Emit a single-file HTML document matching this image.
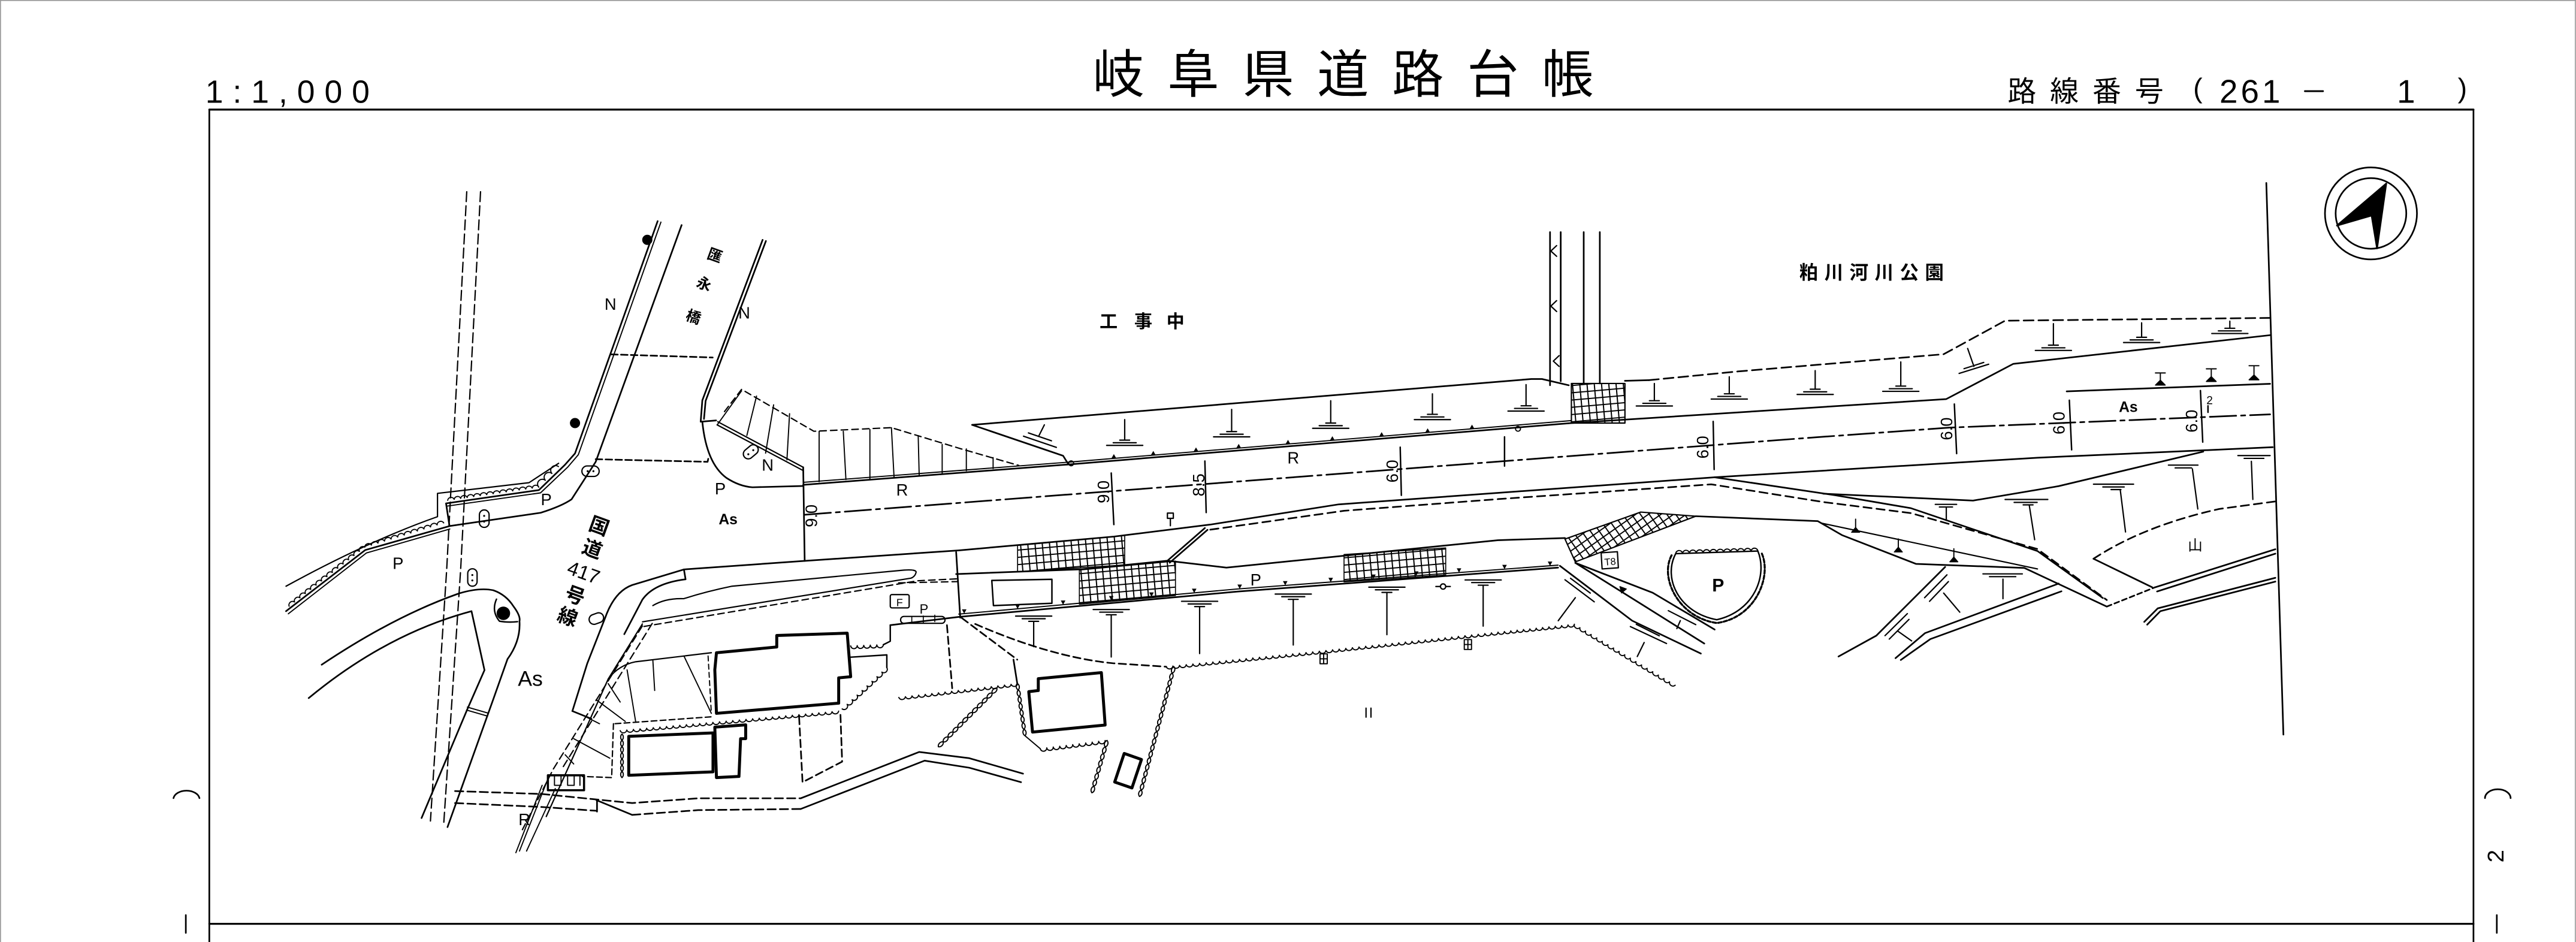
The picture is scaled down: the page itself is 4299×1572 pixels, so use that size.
<!DOCTYPE html>
<html><head><meta charset="utf-8"><style>
html,body{margin:0;padding:0;background:#fff;overflow:hidden;}
svg{display:block;}
text{font-family:"Liberation Sans","Noto Sans CJK JP",sans-serif;fill:#000;stroke:none;}
</style></head><body>
<svg xmlns="http://www.w3.org/2000/svg" width="4299" height="1572" viewBox="0 0 1568 573.37">
<defs>
<pattern id="gr" width="4.4" height="4.4" patternUnits="userSpaceOnUse" patternTransform="rotate(-5)"><path d="M0 0.35H4.4M0.35 0V4.4" stroke="#000" stroke-width="0.75" fill="none"/></pattern>
<pattern id="gr2" width="4.4" height="4.4" patternUnits="userSpaceOnUse" patternTransform="rotate(-35)"><path d="M0 0.35H4.4M0.35 0V4.4" stroke="#000" stroke-width="0.75" fill="none"/></pattern>
</defs>
<rect width="1568" height="573.37" fill="#fff"/>
<path d="M0 0.3H1568M0.3 0V573.4M1567.6 0V573.4" stroke="#999" stroke-width="0.6" fill="none"/>

<!-- header text -->
<text x="125" y="62.5" font-size="19.5" textLength="100" lengthAdjust="spacing">1:1,000</text>
<text x="665" y="56.3" font-size="31.5" textLength="305" lengthAdjust="spacing">岐阜県道路台帳</text>
<text x="1222" y="61.6" font-size="17.5" textLength="95" lengthAdjust="spacing">路線番号</text>
<text x="1335" y="59.4" font-size="17">(</text>
<text x="1351" y="62.6" font-size="20" textLength="37" lengthAdjust="spacing">261</text>
<text x="1459" y="62.6" font-size="20">1</text>
<text x="1496" y="59.4" font-size="17">)</text>

<g fill="none" stroke="#000" stroke-width="1" stroke-linejoin="round" stroke-linecap="round">
<path d="M1403 55.5H1414" stroke-width="1.1"/>
<!-- frame -->
<path d="M127.4 66.7H1505.6M127.4 562.3H1505.6" stroke-width="1.15"/>
<path d="M127.4 66.7V573.4M1505.6 66.7V573.4"/>
<!-- margin marks -->
<path d="M105.6 485.8A8 5.4 0 0 1 121.4 485.8M113.1 557V567.8"/>
<path d="M1512.6 485.8A7.8 5.4 0 0 1 1528.2 485.8M1519.8 557V567.8"/>

<!-- compass -->
<circle cx="1443.2" cy="129.9" r="28"/>
<circle cx="1443.2" cy="129.9" r="21.5"/>
<path d="M1452.5 111.7L1422.5 137.3L1443.6 131.2L1446.9 151.2Z" fill="#000"/>

<!-- right end line -->
<path d="M1379.5 111.4L1389.9 447.1"/>

<!-- old boundary dashed pair -->
<path d="M284.1 116.7L271.9 346.5L262 499.7M292.5 116.7L280.4 346.5L270 502.8" stroke-dasharray="6 2.6" stroke-width="0.8"/>

<!-- N road (bridge road) -->
<path d="M400.3 134.6L350 276L343.8 283L328 298.3L271.5 306.4L273.6 320.2L222.3 334.8L174.1 372"/>
<path d="M402.3 135.2L352 276.8L345.5 284.4L329 300L272.5 308M273.8 322L223 336.6L175.5 373.6" stroke-width="0.7"/>
<path d="M174.1 356.8Q225 329 266.3 314.5V300.3L322 293.8L340 282" stroke-width="0.8"/>
<path d="M273.6 320.2L329.1 312.1Q342 308 347.9 303.9L362.6 281.1L414.9 137"/>
<path d="M464.2 146L427.5 243.7L426.5 256.7L435.9 255.9M466.2 146.7L429.5 244L428.5 255"/>
<path d="M436.9 256.7L488.9 284.4M436.5 258.6L488.5 286.2" stroke-width="0.8"/>
<path d="M427.5 256.7Q430 282 442.2 290.9Q450 296 458 296.6L488.9 295.8"/>
<path d="M372 215.7L433.8 217.6M362.6 279.5L430.7 281.1L431.5 277.5" stroke-dasharray="4 2"/>
<!-- wall scallops -->
<path stroke-width="0.7" d="M176 369a2.2 2.2 0 0 1 3.29-2.57a2.2 2.2 0 0 1 3.29-2.57a2.2 2.2 0 0 1 3.29-2.57a2.2 2.2 0 0 1 3.29-2.57a2.2 2.2 0 0 1 3.29-2.57a2.2 2.2 0 0 1 3.29-2.57a2.2 2.2 0 0 1 3.29-2.57a2.2 2.2 0 0 1 3.29-2.57a2.2 2.2 0 0 1 3.29-2.57a2.2 2.2 0 0 1 3.29-2.57a2.2 2.2 0 0 1 3.29-2.57a2.2 2.2 0 0 1 3.29-2.57a2.2 2.2 0 0 1 3.29-2.57a2.2 2.2 0 0 1 3.29-2.57a2.2 2.2 0 0 1 4-1.23a2.2 2.2 0 0 1 4-1.23a2.2 2.2 0 0 1 4-1.23a2.2 2.2 0 0 1 4-1.23a2.2 2.2 0 0 1 4-1.23a2.2 2.2 0 0 1 4-1.23a2.2 2.2 0 0 1 4-1.23a2.2 2.2 0 0 1 4-1.23a2.2 2.2 0 0 1 4-1.23a2.2 2.2 0 0 1 4-1.23a2.2 2.2 0 0 1 4-1.23a2.2 2.2 0 0 1 4-1.23"/>
<path stroke-width="0.7" d="M272.5 304.5a2.1 2.1 0 0 1 3.96-.57a2.1 2.1 0 0 1 3.96-.57a2.1 2.1 0 0 1 3.96-.57a2.1 2.1 0 0 1 3.96-.57a2.1 2.1 0 0 1 3.96-.57a2.1 2.1 0 0 1 3.96-.57a2.1 2.1 0 0 1 3.96-.57a2.1 2.1 0 0 1 3.96-.57a2.1 2.1 0 0 1 3.96-.57a2.1 2.1 0 0 1 3.96-.57a2.1 2.1 0 0 1 3.96-.57a2.1 2.1 0 0 1 3.96-.57a2.1 2.1 0 0 1 3.96-.57a2.1 2.1 0 0 1 3.96-.57a2.9 2.9 0 0 1 4-4.17a2.9 2.9 0 0 1 4-4.17a2.9 2.9 0 0 1 4-4.17"/>
<!-- manholes -->
<circle cx="394" cy="146" r="2.6" fill="#000"/>
<circle cx="350" cy="257.5" r="2.6" fill="#000"/>
<rect x="354.2" y="283.6" width="10.5" height="6.4" rx="3.2" stroke-width="0.8"/>
<rect x="291.8" y="310.4" width="5.9" height="10.6" rx="2.9" stroke-width="0.8"/>
<rect x="284.7" y="346.2" width="5.7" height="10.6" rx="2.8" stroke-width="0.8"/>
<rect x="358.5" y="373.5" width="9" height="6" rx="3" stroke-width="0.8" transform="rotate(-20 363 376.5)"/>
<rect x="452" y="272" width="10" height="6" rx="3" stroke-width="0.8" transform="rotate(-40 457 275)"/>
<g fill="#000" stroke="none"><circle cx="357.7" cy="286.8" r="0.6"/><circle cx="361.2" cy="286.8" r="0.6"/><circle cx="294.7" cy="314" r="0.6"/><circle cx="294.7" cy="317.5" r="0.6"/><circle cx="287.5" cy="350" r="0.6"/><circle cx="287.5" cy="353.3" r="0.6"/><circle cx="455.5" cy="276.5" r="0.6"/><circle cx="458.5" cy="274" r="0.6"/></g>

<!-- island / lower-left curves -->
<path d="M195.8 404.6Q240 375 279.7 361.1Q292 357.5 300.3 359.3Q308 362 312.5 369Q317 375 316.2 378.1Q317 390 308.9 401.2L300.3 425.5L272.4 503.4"/>
<path d="M187.9 424.9Q235 386 287 372L294.9 407.9L284.5 431.6L256.6 497.9"/>
<path d="M284.5 430.4L297.3 434.1M284 432.2L296.8 435.9" stroke-width="0.7"/>
<path d="M302.2 364.7Q299 372 304 378.1Q309 379 315 378.4" stroke-width="0.9"/>
<circle cx="306.4" cy="373.3" r="3.6" fill="#000"/>

<!-- 417 east side -->
<path d="M348.4 432.8L357.5 403.7L368.3 376.2Q374 360 384.8 356.1L416.3 346.6L489.8 341.4"/>
<path d="M348.4 432.8L360 437.5"/>
<path d="M416.3 346.6L417.3 352.6Q398 355 391 365L380 386"/>
<path d="M391 379.8L370.2 413.3L332.5 497" stroke-width="0.8"/>
<path d="M391 381L336.8 468.1L318 505M397 379.5L342 468" stroke-dasharray="4.5 2.5" stroke-width="0.8"/>
<path d="M334.4 471.8L316.2 518M338 480L320.5 518M330 478L314 519" stroke-width="0.7"/>
<path d="M370.2 413.3Q376.5 404.9 386.9 402.8L433 397.3" stroke-width="0.8"/>
<path stroke-width="0.7" d="M370.2 416.1L377.5 427.3M362.9 425.9L380.6 439.1M349.2 449.6L371.2 461.5M344 459.4L349.2 465M356.6 436.3L364.9 440.5M381.7 407.7L386.9 439.1M397.4 402.1L398.5 420.3M416.3 399.3L433 434.2"/>
<path d="M431 399.3L433 434.2" stroke-dasharray="3 2" stroke-width="0.7"/>
<!-- island sliver -->
<path d="M397.4 368.6Q405 364 416.2 364.4Q430 360 445.6 356.8L550.3 347Q558 346.5 557.6 348.4Q557 351 554.5 351.9L391.1 378.5" stroke-width="0.8"/>
<path d="M392 381.3L558.6 353.5L583 352.3M547 354.8L583 354" stroke-dasharray="4 2.5" stroke-width="0.8"/>

<!-- small hatched rect -->
<path d="M333.5 471.9H355.5V481H333.5Z" stroke-width="1.3"/>
<path d="M337.5 472V478M341.5 472V478M345.5 472V478M349.5 472V478M353 472V478M337.5 478H341.5M345.5 478H349.5" stroke-width="0.7"/>

<!-- lower double line -->
<path d="M277 481.5L330 483.3L384.8 488.8L425 485.9L487.4 485.9M277 488.8L330 491.2L363 493.5M384.8 496L425 493.1L487.4 492.4" stroke-dasharray="5 2.5"/>
<path d="M363 487L384.8 496M363.4 487V494"/>
<path d="M487.4 485.9L559.5 457.7L590 461.5L622.7 470.9M487.4 492.4L562.8 463L590 467.3L621.5 476.1"/>

<!-- buildings -->
<g stroke-width="1.8">
<path d="M436.1 397.3L472.8 393.8L472.8 386.8L515.7 385.4L517.8 411.9L510.5 412.6L510.5 428L436.1 434.2L435.1 407.7Z"/>
<path d="M382.7 448.2L434 446.1L434 469.8L382.7 471.9Z"/>
<path d="M435.1 442.6L453.9 441.2L453.9 449.6L450.8 449.6L449.8 472.6L436.1 473.3Z"/>
<path d="M626.2 421L632 420.3L632 413.1L670.4 409.4L672.7 441.3L628.5 445.6Z"/>
<path d="M684.3 458.6L694.8 462.3L689 479.6L678.5 476Z"/>
</g>
<path d="M374.4 440.5L433 436.3M373.4 440.5L372.3 473.3L354.5 472.6" stroke-dasharray="3.5 2" stroke-width="0.8"/>
<path d="M486.4 436.3L488.5 476.1L512.6 463.6L511.5 432.8" stroke-dasharray="4.5 2.5"/>
<path d="M517.8 400L539.8 398.6L539.8 406.3M537.7 392.4L541.9 390.3L541.9 380.5" stroke-width="0.9"/>
<path d="M576.4 380.5L579.6 418.9" stroke-dasharray="4.5 2.5"/>
<path d="M585.5 376.2L619.2 401.5" stroke-dasharray="4.5 2.5"/>
<path d="M616.9 401.5L619.2 416"/>
<path d="M593.6 379.8Q640 400 677.4 403.7L709.9 405.8" stroke-dasharray="4.5 2.5"/>

<!-- scallops (south area) -->
<g stroke-width="0.7">
<path d="M709.9 405.8a2.1 2.1 0 0 0 4.05-.41a2.1 2.1 0 0 0 4.05-.41a2.1 2.1 0 0 0 4.05-.41a2.1 2.1 0 0 0 4.05-.41a2.1 2.1 0 0 0 4.05-.41a2.1 2.1 0 0 0 4.05-.41a2.1 2.1 0 0 0 4.05-.41a2.1 2.1 0 0 0 4.05-.41a2.1 2.1 0 0 0 4.05-.41a2.1 2.1 0 0 0 4.05-.41a2.1 2.1 0 0 0 4.05-.41a2.1 2.1 0 0 0 4.05-.41a2.1 2.1 0 0 0 4.05-.41a2.1 2.1 0 0 0 4.05-.41a2.1 2.1 0 0 0 4.05-.41a2.1 2.1 0 0 0 4.05-.41a2.1 2.1 0 0 0 4.05-.41a2.1 2.1 0 0 0 4.05-.41a2.1 2.1 0 0 0 4.05-.41a2.1 2.1 0 0 0 4.05-.41a2.1 2.1 0 0 0 4.05-.41a2.1 2.1 0 0 0 4.05-.41a2.1 2.1 0 0 0 4.05-.41a2.1 2.1 0 0 0 4.03-.43a2.1 2.1 0 0 0 4.03-.43a2.1 2.1 0 0 0 4.03-.43a2.1 2.1 0 0 0 4.03-.43a2.1 2.1 0 0 0 4.03-.43a2.1 2.1 0 0 0 4.03-.43a2.1 2.1 0 0 0 4.03-.43a2.1 2.1 0 0 0 4.03-.43a2.1 2.1 0 0 0 4.03-.43a2.1 2.1 0 0 0 4.03-.43a2.1 2.1 0 0 0 4.03-.43a2.1 2.1 0 0 0 4.03-.43a2.1 2.1 0 0 0 4.03-.43a2.1 2.1 0 0 0 4.03-.43a2.1 2.1 0 0 0 4.03-.43a2.1 2.1 0 0 0 4.03-.43a2.1 2.1 0 0 0 4.03-.43a2.1 2.1 0 0 0 4.03-.43a2.1 2.1 0 0 0 4.03-.43a2.1 2.1 0 0 0 4.03-.43a2.1 2.1 0 0 0 4.03-.43a2.1 2.1 0 0 0 4.03-.43a2.1 2.1 0 0 0 4.03-.43a2.1 2.1 0 0 0 4.03-.43a2.1 2.1 0 0 0 4.03-.43a2.1 2.1 0 0 0 4.03-.43a2.1 2.1 0 0 0 4.03-.43a2 2 0 0 0 3.87-.4a2 2 0 0 0 3.87-.4a2 2 0 0 0 3.87-.4a2 2 0 0 0 3.87-.4a2 2 0 0 0 3.87-.4a2 2 0 0 0 3.87-.4a2 2 0 0 0 3.87-.4a2 2 0 0 0 3.87-.4a2 2 0 0 0 3.87-.4a2 2 0 0 0 3.87-.4a2 2 0 0 0 3.87-.4a2 2 0 0 0 3.87-.4"/>
<path d="M958.3 380a2.1 2.1 0 0 0 3.41 2.06a2.1 2.1 0 0 0 3.41 2.06a2.1 2.1 0 0 0 3.41 2.06a2.1 2.1 0 0 0 3.41 2.06a2.1 2.1 0 0 0 3.41 2.06a2.1 2.1 0 0 0 3.41 2.06a2.1 2.1 0 0 0 3.41 2.06a2.1 2.1 0 0 0 3.41 2.06a2.1 2.1 0 0 0 3.41 2.06a2.1 2.1 0 0 0 3.41 2.06a2.1 2.1 0 0 0 3.41 2.06a2.1 2.1 0 0 0 3.41 2.06a2.1 2.1 0 0 0 3.41 2.06a2.1 2.1 0 0 0 3.41 2.06a2.1 2.1 0 0 0 3.41 2.06a2.1 2.1 0 0 0 3.41 2.06a2.1 2.1 0 0 0 3.41 2.06a2.1 2.1 0 0 0 3.41 2.06"/>
<path d="M377.5 444.7a2.1 2.1 0 0 0 4.03-.36a2.1 2.1 0 0 0 4.03-.36a2.1 2.1 0 0 0 4.03-.36a2.1 2.1 0 0 0 4.03-.36a2.1 2.1 0 0 0 4.03-.36a2.1 2.1 0 0 0 4.03-.36a2.1 2.1 0 0 0 4.03-.36a2.1 2.1 0 0 0 4.03-.36a2.1 2.1 0 0 0 4.03-.36a2.1 2.1 0 0 0 4.03-.36a2.1 2.1 0 0 0 4.03-.36a2.1 2.1 0 0 0 4.03-.36a2.1 2.1 0 0 0 4.03-.36a2.1 2.1 0 0 0 4.03-.36a2.1 2.1 0 0 0 4.03-.36a2.1 2.1 0 0 0 4.03-.36a2.1 2.1 0 0 0 4.03-.36a2.1 2.1 0 0 0 4.03-.36a2.1 2.1 0 0 0 4.03-.36a2.1 2.1 0 0 0 4.03-.36a2.1 2.1 0 0 0 4.03-.36a2.1 2.1 0 0 0 4.03-.36a2.1 2.1 0 0 0 4.03-.36a2.1 2.1 0 0 0 4.03-.36a2.1 2.1 0 0 0 4.03-.36a2.1 2.1 0 0 0 4.03-.36a2.1 2.1 0 0 0 4.03-.36a2.1 2.1 0 0 0 4.03-.36a2.1 2.1 0 0 0 4.03-.36a2.1 2.1 0 0 0 4.03-.36a2.1 2.1 0 0 0 4.03-.36a2.1 2.1 0 0 0 4.03-.36a2.1 2.1 0 0 0 4.03-.36"/>
<path d="M517.8 393.1a2 2 0 0 0 3.98-.14a2 2 0 0 0 3.98-.14a2 2 0 0 0 3.98-.14a2 2 0 0 0 3.98-.14a2 2 0 0 0 3.98-.14"/>
<path d="M539.8 406.3a2.1 2.1 0 0 1-3.02 2.8a2.1 2.1 0 0 1-3.02 2.8a2.1 2.1 0 0 1-3.02 2.8a2.1 2.1 0 0 1-3.02 2.8a2.1 2.1 0 0 1-3.02 2.8a2.1 2.1 0 0 1-3.02 2.8a2.1 2.1 0 0 1-3.02 2.8a2.1 2.1 0 0 1-3.02 2.8a2.1 2.1 0 0 1-3.02 2.8"/>
<path d="M547.1 424.5a2.1 2.1 0 0 0 4.02-.47a2.1 2.1 0 0 0 4.02-.47a2.1 2.1 0 0 0 4.02-.47a2.1 2.1 0 0 0 4.02-.47a2.1 2.1 0 0 0 4.02-.47a2.1 2.1 0 0 0 4.02-.47a2.1 2.1 0 0 0 4.02-.47a2.1 2.1 0 0 0 4.02-.47a2.1 2.1 0 0 0 4.02-.47a2.1 2.1 0 0 0 4.02-.47a2.1 2.1 0 0 0 4.02-.47a2.1 2.1 0 0 0 4.02-.47a2.1 2.1 0 0 0 4.02-.47a2.1 2.1 0 0 0 4.02-.47a2.1 2.1 0 0 0 4.02-.47a2.1 2.1 0 0 0 4.02-.47a2.1 2.1 0 0 0 4.02-.47a2.1 2.1 0 0 0 4.02-.47"/>
<path d="M633.2 455.7a2 2 0 0 0 3.95-.5a2 2 0 0 0 3.95-.5a2 2 0 0 0 3.95-.5a2 2 0 0 0 3.95-.5a2 2 0 0 0 3.95-.5a2 2 0 0 0 3.95-.5a2 2 0 0 0 3.95-.5a2 2 0 0 0 3.95-.5a2 2 0 0 0 3.95-.5a2 2 0 0 0 3.95-.5"/>
<path d="M606.8 418.9a2.6 2.6 0 0 1-2.97 2.97a2.6 2.6 0 0 1-2.97 2.97a2.6 2.6 0 0 1-2.97 2.97a2.6 2.6 0 0 1-2.97 2.97a2.6 2.6 0 0 1-2.97 2.97a2.6 2.6 0 0 1-2.97 2.97a2.6 2.6 0 0 1-2.97 2.97a2.6 2.6 0 0 1-2.97 2.97a2.6 2.6 0 0 1-2.97 2.97a2.6 2.6 0 0 1-2.97 2.97a2.6 2.6 0 0 1-2.97 2.97a2.6 2.6 0 0 1-2.97 2.97M606.8 418.9a2.6 2.6 0 0 0-2.97 2.97a2.6 2.6 0 0 0-2.97 2.97a2.6 2.6 0 0 0-2.97 2.97a2.6 2.6 0 0 0-2.97 2.97a2.6 2.6 0 0 0-2.97 2.97a2.6 2.6 0 0 0-2.97 2.97a2.6 2.6 0 0 0-2.97 2.97a2.6 2.6 0 0 0-2.97 2.97a2.6 2.6 0 0 0-2.97 2.97a2.6 2.6 0 0 0-2.97 2.97a2.6 2.6 0 0 0-2.97 2.97a2.6 2.6 0 0 0-2.97 2.97"/>
<path d="M619.2 416a2.6 2.6 0 0 1 .59 3.98a2.6 2.6 0 0 1 .59 3.98a2.6 2.6 0 0 1 .59 3.98a2.6 2.6 0 0 1 .59 3.98a2.6 2.6 0 0 1 .59 3.98a2.6 2.6 0 0 1 .59 3.98a2.6 2.6 0 0 1 .59 3.98a2.6 2.6 0 0 1 .59 3.98M619.2 416a2.6 2.6 0 0 0 .59 3.98a2.6 2.6 0 0 0 .59 3.98a2.6 2.6 0 0 0 .59 3.98a2.6 2.6 0 0 0 .59 3.98a2.6 2.6 0 0 0 .59 3.98a2.6 2.6 0 0 0 .59 3.98a2.6 2.6 0 0 0 .59 3.98a2.6 2.6 0 0 0 .59 3.98L633.2 455.7"/>
<path d="M673.9 450.7a2.6 2.6 0 0 1-1.16 3.98a2.6 2.6 0 0 1-1.16 3.98a2.6 2.6 0 0 1-1.16 3.98a2.6 2.6 0 0 1-1.16 3.98a2.6 2.6 0 0 1-1.16 3.98a2.6 2.6 0 0 1-1.16 3.98a2.6 2.6 0 0 1-1.16 3.98a2.6 2.6 0 0 1-1.16 3.98M673.9 450.7a2.6 2.6 0 0 0-1.16 3.98a2.6 2.6 0 0 0-1.16 3.98a2.6 2.6 0 0 0-1.16 3.98a2.6 2.6 0 0 0-1.16 3.98a2.6 2.6 0 0 0-1.16 3.98a2.6 2.6 0 0 0-1.16 3.98a2.6 2.6 0 0 0-1.16 3.98a2.6 2.6 0 0 0-1.16 3.98"/>
<path d="M714.6 405.8a2.6 2.6 0 0 1-1.05 3.95a2.6 2.6 0 0 1-1.05 3.95a2.6 2.6 0 0 1-1.05 3.95a2.6 2.6 0 0 1-1.05 3.95a2.6 2.6 0 0 1-1.05 3.95a2.6 2.6 0 0 1-1.05 3.95a2.6 2.6 0 0 1-1.05 3.95a2.6 2.6 0 0 1-1.05 3.95a2.6 2.6 0 0 1-1.05 3.95a2.6 2.6 0 0 1-1.05 3.95a2.6 2.6 0 0 1-1.05 3.95a2.6 2.6 0 0 1-1.05 3.95a2.6 2.6 0 0 1-1.05 3.95a2.6 2.6 0 0 1-1.05 3.95a2.6 2.6 0 0 1-1.05 3.95a2.6 2.6 0 0 1-1.05 3.95a2.6 2.6 0 0 1-1.05 3.95a2.6 2.6 0 0 1-1.05 3.95a2.6 2.6 0 0 1-1.05 3.95a2.6 2.6 0 0 1-1.05 3.95M714.6 405.8a2.6 2.6 0 0 0-1.05 3.95a2.6 2.6 0 0 0-1.05 3.95a2.6 2.6 0 0 0-1.05 3.95a2.6 2.6 0 0 0-1.05 3.95a2.6 2.6 0 0 0-1.05 3.95a2.6 2.6 0 0 0-1.05 3.95a2.6 2.6 0 0 0-1.05 3.95a2.6 2.6 0 0 0-1.05 3.95a2.6 2.6 0 0 0-1.05 3.95a2.6 2.6 0 0 0-1.05 3.95a2.6 2.6 0 0 0-1.05 3.95a2.6 2.6 0 0 0-1.05 3.95a2.6 2.6 0 0 0-1.05 3.95a2.6 2.6 0 0 0-1.05 3.95a2.6 2.6 0 0 0-1.05 3.95a2.6 2.6 0 0 0-1.05 3.95a2.6 2.6 0 0 0-1.05 3.95a2.6 2.6 0 0 0-1.05 3.95a2.6 2.6 0 0 0-1.05 3.95a2.6 2.6 0 0 0-1.05 3.95"/>
<path d="M378.6 446.8a2.6 2.6 0 0 1 0 3.79a2.6 2.6 0 0 1 0 3.79a2.6 2.6 0 0 1 0 3.79a2.6 2.6 0 0 1 0 3.79a2.6 2.6 0 0 1 0 3.79a2.6 2.6 0 0 1 0 3.79a2.6 2.6 0 0 1 0 3.79M378.6 446.8a2.6 2.6 0 0 0 0 3.79a2.6 2.6 0 0 0 0 3.79a2.6 2.6 0 0 0 0 3.79a2.6 2.6 0 0 0 0 3.79a2.6 2.6 0 0 0 0 3.79a2.6 2.6 0 0 0 0 3.79a2.6 2.6 0 0 0 0 3.79"/>
</g>

<!-- hatched parking area north-west of main road -->
<path d="M441 250.5L451.4 237L495.4 262.5L542.6 260.3L585 273.2L620.1 283.3" stroke-dasharray="4 2.5" stroke-width="0.8"/>
<path stroke-width="0.7" d="M451.4 237.9L436.7 258.4M460.5 241.1L454.6 265.1M470.9 246.4L466 275.8M480.6 251.8L479 279.9M498.6 262.5L498.6 293.2M513.3 262.5L514.9 291.9M529.5 261.4L529.5 291.4M542.6 260.3L544.2 290.6M558.9 265.1L559.5 289.2M573.5 270.5L573.5 287.9M588.2 273.2L588.2 286.5M604.5 278.5L604.5 285.2"/>

<!-- main road -->
<path d="M488.9 295.1L650.4 282.7L956.5 257.5L1094.3 248.7L1184.7 242.9L1225.4 221.5L1381.8 204"/>
<path d="M488.9 293.6L650.4 281.3L956.5 256" stroke-width="0.7"/>
<path d="M488.9 284.4L489.8 341.4"/>
<path d="M489.8 313.3L1094 267L1186.4 260.3L1381.8 252.2" stroke-dasharray="16 3 2.5 3"/>
<path d="M489.8 341.4L583.6 335L678 326.6L736.7 319.3L814.8 307L911.8 300L1043.7 290.5L1240.2 278.6L1383.4 272.2"/>
<path d="M736.7 322.4L818.1 310.9L911.8 303.8L1041.6 294.8L1110.7 305.7L1163.1 312.3L1240.2 334.2L1282.4 365.2" stroke-dasharray="5 3"/>
<!-- upper strip -->
<path d="M591.7 258.6L932.1 230.7L938.6 230.7L954.9 234.5M591.7 258.6L647.1 277.4L650.4 282.7"/>
<!-- bridge -->
<path d="M943.5 141.3V234.5M950 141.3V232M964 141.3V233.4M973.8 141.3V233.4"/>
<path d="M947.5 149.5L944 152.8L947.5 156M947.5 183L944 186.3L947.5 189.6M949 216.5L945.5 219.8L949 223" stroke-width="0.8"/>
<rect x="956.5" y="233.4" width="32.6" height="24.1" fill="url(#gr)" stroke-width="0.8"/>
<path d="M989.1 231.8L1003.7 231.4"/>
<path d="M1003.7 231.4L1057.7 226.1L1183.1 215.6L1220.5 195.2L1381.8 193.5" stroke-dasharray="6 3"/>
<!-- wedge right -->
<path d="M1258 238.2L1381.8 233.6"/>
<path d="M1312 234.4h6l-3-3zM1343 232.2h6l-3-3zM1369 231.2h6l-3-3z" fill="#000" stroke-width="0.6"/>
<path d="M1315 231.4V227M1346 229.2V224.5M1372 228.2V222.6M1312 227h6M1343 224.5h6M1369 222.6h6" stroke-width="0.7"/>

<!-- north curb triangles -->
<path fill="#000" stroke="none" d="M676.5 279h3l-1.5-2.6zM700.5 277.05h3l-1.5-2.6zM726.5 274.91h3l-1.5-2.6zM752.5 272.77h3l-1.5-2.6zM782.5 270.3h3l-1.5-2.6zM809.5 268.08h3l-1.5-2.6zM839.5 265.61h3l-1.5-2.6zM867.5 263.3h3l-1.5-2.6zM894.5 261.08h3l-1.5-2.6z"/>
<circle cx="652" cy="282" r="1.5" stroke-width="0.7"/>
<circle cx="924" cy="261" r="1.5" stroke-width="0.7"/>

<!-- north slope T symbols -->
<path stroke-width="0.8" d="M673.6 271.1h22M677.6 269.5h14M681.6 267.9h6M684.6 267.9V255.4
M738.7 265.9h22M742.7 264.3h14M746.7 262.7h6M749.7 262.7V249.2
M799 260.7h22M803 259.1h14M807 257.5h6M810 257.5V243.9
M860.9 255.4h22M864.9 253.8h14M868.9 252.2h6M871.9 252.2V239.7
M917.9 250.2h22M921.9 248.6h14M925.9 247h6M928.9 247V234.1
M996 247.1h22M1000 245.5h14M1004 243.9h6M1007 243.9V233.4
M1041.6 242.9h22M1045.6 241.3h14M1049.6 239.7h6M1052.6 239.7V229.3
M1093.9 240.1h22M1097.9 238.5h14M1101.9 236.9h6M1104.9 236.9V225.6
M1146 238.2h22M1150 236.6h14M1154 235h6M1157 235V220.3
M1238.9 213.3h22M1242.9 211.7h14M1246.9 210.1h6M1249.9 210.1V197
M1292.6 208.5h22M1296.6 206.9h14M1300.6 205.3h6M1303.6 205.3V196.5
M1346.3 203h22M1350.3 201.4h14M1354.3 199.8h6M1357.3 199.8V195.5
M1197.7 212.1L1201.5 223M1192.5 227.3L1210.5 221.7M1195.5 224.4L1207.5 220.6
M635.7 258.6L632.5 265M623 265.5L643 272.3M626 263.5L640 268.3"/>

<!-- width markers -->
<path stroke-width="0.9" d="M676.4 287.9L678 319.3M733.4 280.6L734.2 312M852.3 272.2L853 301.5M915.8 265.9V283.7M1042.8 256.5L1043.4 285.8M1189.6 245.9L1191 276.1M1259.6 243.6L1261 273.8M1339.4 237.7L1340.8 269.1M1344 247V251"/>

<!-- south side: line c, grids, curb -->
<path d="M582 349.4L658.8 346.5L710.6 341.3L733.4 321.4M712 342.5L735 322.5M710.6 341.3L746.5 345.5L911.8 328.8L952.6 327.5"/>
<path d="M582 336L584.5 376"/>
<path d="M619.4 332L684.6 326L684.6 343.9L619.4 348Z" fill="url(#gr)" stroke-width="0.6"/>
<path d="M657 347L715.5 341.5L715.5 362.5L657 367.8Z" fill="url(#gr)" stroke-width="0.6"/>
<path d="M818.1 337.5L880 333.5L880 350L818.1 354.2Z" fill="url(#gr)" stroke-width="0.6"/>
<path d="M952.6 328.1L998.7 311.7L1032.2 314.2L958.9 342Z" fill="url(#gr2)" stroke-width="0.8"/>
<path d="M603.7 353.3L640.3 352.6L640.3 367.2L604.7 368.6Z" stroke-width="0.9"/>
<path d="M541.9 380.5L583.6 375.5L753 360.1L948.4 345.5"/>
<path d="M583.6 373.8L753 358.5L948.4 344" stroke-width="0.7"/>
<path fill="#000" stroke="none" d="M585.5 370.9h2.8l-1.4 2.6zM618 368h2.8l-1.4 2.6zM645.7 365.5h2.8l-1.4 2.6zM675 362.8h2.8l-1.4 2.6zM699.5 360.6h2.8l-1.4 2.6zM725.5 358.3h2.8l-1.4 2.6zM753.2 355.8h2.8l-1.4 2.6zM780.9 353.7h2.8l-1.4 2.6zM808.6 351.7h2.8l-1.4 2.6zM834.6 349.7h2.8l-1.4 2.6zM860.7 347.8h2.8l-1.4 2.6zM886.7 345.9h2.8l-1.4 2.6zM914.4 343.8h2.8l-1.4 2.6zM942.1 341.8h2.8l-1.4 2.6z"/>
<rect x="548.2" y="375.2" width="27" height="4.2" rx="2" stroke-width="0.8"/>
<path d="M555 375.3V379.3M562 374.9V378.9M569 374.4V378.4" stroke-width="0.6"/>
<rect x="541.9" y="361.9" width="11.5" height="8.1" rx="1" stroke-width="0.8"/>
<!-- south slope Ts -->
<path stroke-width="0.8" d="M618.2 375h22M622.2 376.6h14M626.2 378.2h6M629.2 378.2V393.6
M665.4 371h22M669.4 372.6h14M673.4 374.2h6M676.4 374.2V399.9
M719.2 366h22M723.2 367.6h14M727.2 369.2h6M730.2 369.2V397.8
M776.2 361.6h22M780.2 363.2h14M784.2 364.8h6M787.2 364.8V392.6
M833.2 357.4h22M837.2 359h14M841.2 360.6h6M844.2 360.6V386.3
M891.8 353h22M895.8 354.6h14M899.8 356.2h6M902.8 356.2V381.1"/>
<!-- signs -->
<path d="M710.6 312.3h3.6v3.2h-3.6zM712.4 315.5V320" stroke-width="0.8"/>
<circle cx="878.4" cy="357" r="1.6" stroke-width="0.8"/>
<path d="M874 357h2.8M880 357h2.8" stroke-width="0.8"/>
<path d="M803.5 398h4.4v6h-4.4zM803.5 401h4.4M805.7 398v6M891.3 389.3h4.4v6h-4.4zM891.3 392.3h4.4M893.5 389.3v6" stroke-width="0.7"/>
<path d="M831.5 431V436.5M834.5 431V436.5" stroke-width="0.8"/>

<!-- south-east area -->
<path d="M949.5 344.4L993.5 377.8L1035.3 397.8"/>
<path d="M958.9 342.6L999.7 368.1L1037.4 391.7"/>
<path d="M958.9 342.6L1006 360.8L1043.7 383.2"/>
<path d="M1032.2 314.2L1106.5 317.2L1121.2 325.7L1166.2 343.2L1232.2 345.7L1282.4 369.2"/>
<path d="M1108.6 318.4L1240.2 346.3" stroke-width="0.8"/>
<path d="M1043.7 290.5L1117 301.4L1163.1 309.3L1240.2 335.4L1280 364"/>
<path d="M1109.8 300.5L1201 304.7L1253.1 295.9L1341.1 274.9"/>
<path d="M1184 345.1L1142.1 386.9L1119.1 399.6"/>
<path d="M1253.1 355.2L1171.7 385.4L1153.8 400.6M1254.8 359.9L1175 389L1157 401.7"/>
<path d="M1274.3 340.1Q1305 320 1350.8 309.8L1385 305.2" stroke-dasharray="5 3"/>
<path d="M1274.3 340.1L1310.1 357.5"/>
<path d="M1311.7 357.5L1385 334.3M1313 360L1385 337"/>
<path d="M1305.2 378.5L1313.4 370.3L1385 351.7M1307 380.2L1315 372L1385 354"/>
<path d="M1282.4 369.2L1311.7 357.5" stroke-dasharray="3 2"/>
<!-- SE T symbols -->
<path stroke-width="0.8" d="M1178 307h13M1180.5 308.6h8M1184.7 308.6V316.8
M1220.5 304h26M1226 305.8h14M1231.5 307.3h6M1235.2 307.5L1238.5 328.5
M1274.3 294.7h24.4M1280 296.4h13M1285 298h6M1290.6 298.2L1293.8 323.8
M1319.9 283.1h18M1324 284.8h10M1334.5 285.4L1337.8 309.8
M1362.2 277.3h19.6M1366 279h12M1370.4 280.8L1371.3 304
M1207 349.3h24M1211 351h16M1219.2 352.5V364.4
M1183.1 361L1192.9 372.6M1171.5 363.8L1185.1 349.9M1174.5 366L1186 354
M1155.4 384.3L1163.6 390.1M1147.4 386.9L1161 373.5M1150 389L1162 377
M948.5 377.8L958.9 363.8M952.6 352.9L970.4 366.3M956 352L968 361
M996.6 399.6L1000.8 391.1M992.4 381.4L1014.4 391.7M996 380L1010 387
M1020.7 382.6L1022.8 377.8M1015.5 371.7L1032.2 380.2"/>
<path d="M1127 324h5l-2.5-3zM1153 336h5l-2.5-3zM1186.8 342h5l-2.5-3z" fill="#000" stroke-width="0.5"/>
<path d="M1129.5 321V316M1155.5 333V328M1189.3 339V334" stroke-width="0.7"/>
<path d="M986 357l4 1.5l-3 2.5z" fill="#000" stroke-width="0.5"/>
<!-- P circle -->
<path d="M1020 337L1070 335.4C1076 350 1068 372 1045 377.2C1022 373 1012 352 1020 337Z" stroke-width="0.9"/>
<path d="M1017.5 338C1010 352 1022 376 1045 379.2C1069 376 1079 350 1072 336" stroke-dasharray="2.2 1.2" stroke-width="1.2"/>
<path stroke-width="0.7" d="M1020 337a2.1 2.1 0 0 1 4.17-.13a2.1 2.1 0 0 1 4.17-.13a2.1 2.1 0 0 1 4.17-.13a2.1 2.1 0 0 1 4.17-.13a2.1 2.1 0 0 1 4.17-.13a2.1 2.1 0 0 1 4.17-.13a2.1 2.1 0 0 1 4.17-.13a2.1 2.1 0 0 1 4.17-.13a2.1 2.1 0 0 1 4.17-.13a2.1 2.1 0 0 1 4.17-.13a2.1 2.1 0 0 1 4.17-.13a2.1 2.1 0 0 1 4.17-.13"/>
<path d="M974.6 336.5L984.5 335.8L985.1 345.6L975.2 346.3Z" stroke-width="0.8"/>
</g>

<!-- labels -->
<g font-size="10" text-anchor="middle">
<text x="371.6" y="188.5">N</text>
<text x="453" y="193.8">N</text>
<text x="467.3" y="286.5">N</text>
<text x="438.4" y="301">P</text>
<text x="332.5" y="307.5">P</text>
<text x="242.3" y="346.3">P</text>
<text x="549.1" y="301.7">R</text>
<text x="787.2" y="282.1">R</text>
<text x="764.4" y="356.4">P</text>
<text x="319.2" y="502.2">R</text>
</g>
<text x="562.4" y="373.5" font-size="8" text-anchor="middle">P</text>
<text x="547.6" y="369" font-size="6.5" text-anchor="middle">F</text>
<text x="980" y="344" font-size="6" text-anchor="middle" transform="rotate(-5 980 341)">T8</text>
<text x="443.2" y="319.2" font-size="9" font-weight="bold" text-anchor="middle">As</text>
<text x="322.8" y="417.5" font-size="13" text-anchor="middle">As</text>
<text x="1295.5" y="250.7" font-size="9" font-weight="bold" text-anchor="middle">As</text>
<text x="1045.8" y="360" font-size="11" font-weight="bold" text-anchor="middle">P</text>
<text x="1336.2" y="335" font-size="9" text-anchor="middle">山</text>
<text x="1345" y="246" font-size="7" text-anchor="middle">2</text>
<g font-size="11" font-weight="bold" text-anchor="middle">
<text x="674.8" y="199.5">工</text>
<text x="695.9" y="199.5">事</text>
<text x="715.5" y="199.5">中</text>
</g>
<text x="1095.2" y="169.8" font-size="11.5" font-weight="bold" textLength="88" lengthAdjust="spacing">粕川河川公園</text>
<g font-size="9" font-weight="bold" text-anchor="middle">
<text transform="translate(435.1 155.4) rotate(20)" y="3.2">匯</text>
<text transform="translate(428.6 172.8) rotate(20)" y="3.2">永</text>
<text transform="translate(422.1 192.9) rotate(20)" y="3.2">橋</text>
</g>
<g font-size="12" text-anchor="middle">
<text transform="translate(364.7 320.2) rotate(20)" y="4.2" font-weight="bold">国</text>
<text transform="translate(360.5 334.2) rotate(20)" y="4.2" font-weight="bold">道</text>
<text transform="translate(355.3 348.4) rotate(20)" y="4.2">417</text>
<text transform="translate(350 362.5) rotate(20)" y="4.2" font-weight="bold">号</text>
<text transform="translate(345.5 375.5) rotate(20)" y="4.2" font-weight="bold">線</text>
</g>
<g font-size="10" text-anchor="middle">
<text transform="translate(497.4 314) rotate(-90)">9.0</text>
<text transform="translate(675.1 299.4) rotate(-90)">9.0</text>
<text transform="translate(733.1 295.2) rotate(-90)">8.5</text>
<text transform="translate(851 286.8) rotate(-90)">6.0</text>
<text transform="translate(1039.9 272.2) rotate(-90)">6.0</text>
<text transform="translate(1188.3 261) rotate(-90)">6.0</text>
<text transform="translate(1256.7 257.5) rotate(-90)">6.0</text>
<text transform="translate(1337.5 256.3) rotate(-90)">6.0</text>
</g>
<text transform="translate(1523.8 521.1) rotate(-90)" font-size="14" text-anchor="middle">2</text>
</svg>
</body></html>
